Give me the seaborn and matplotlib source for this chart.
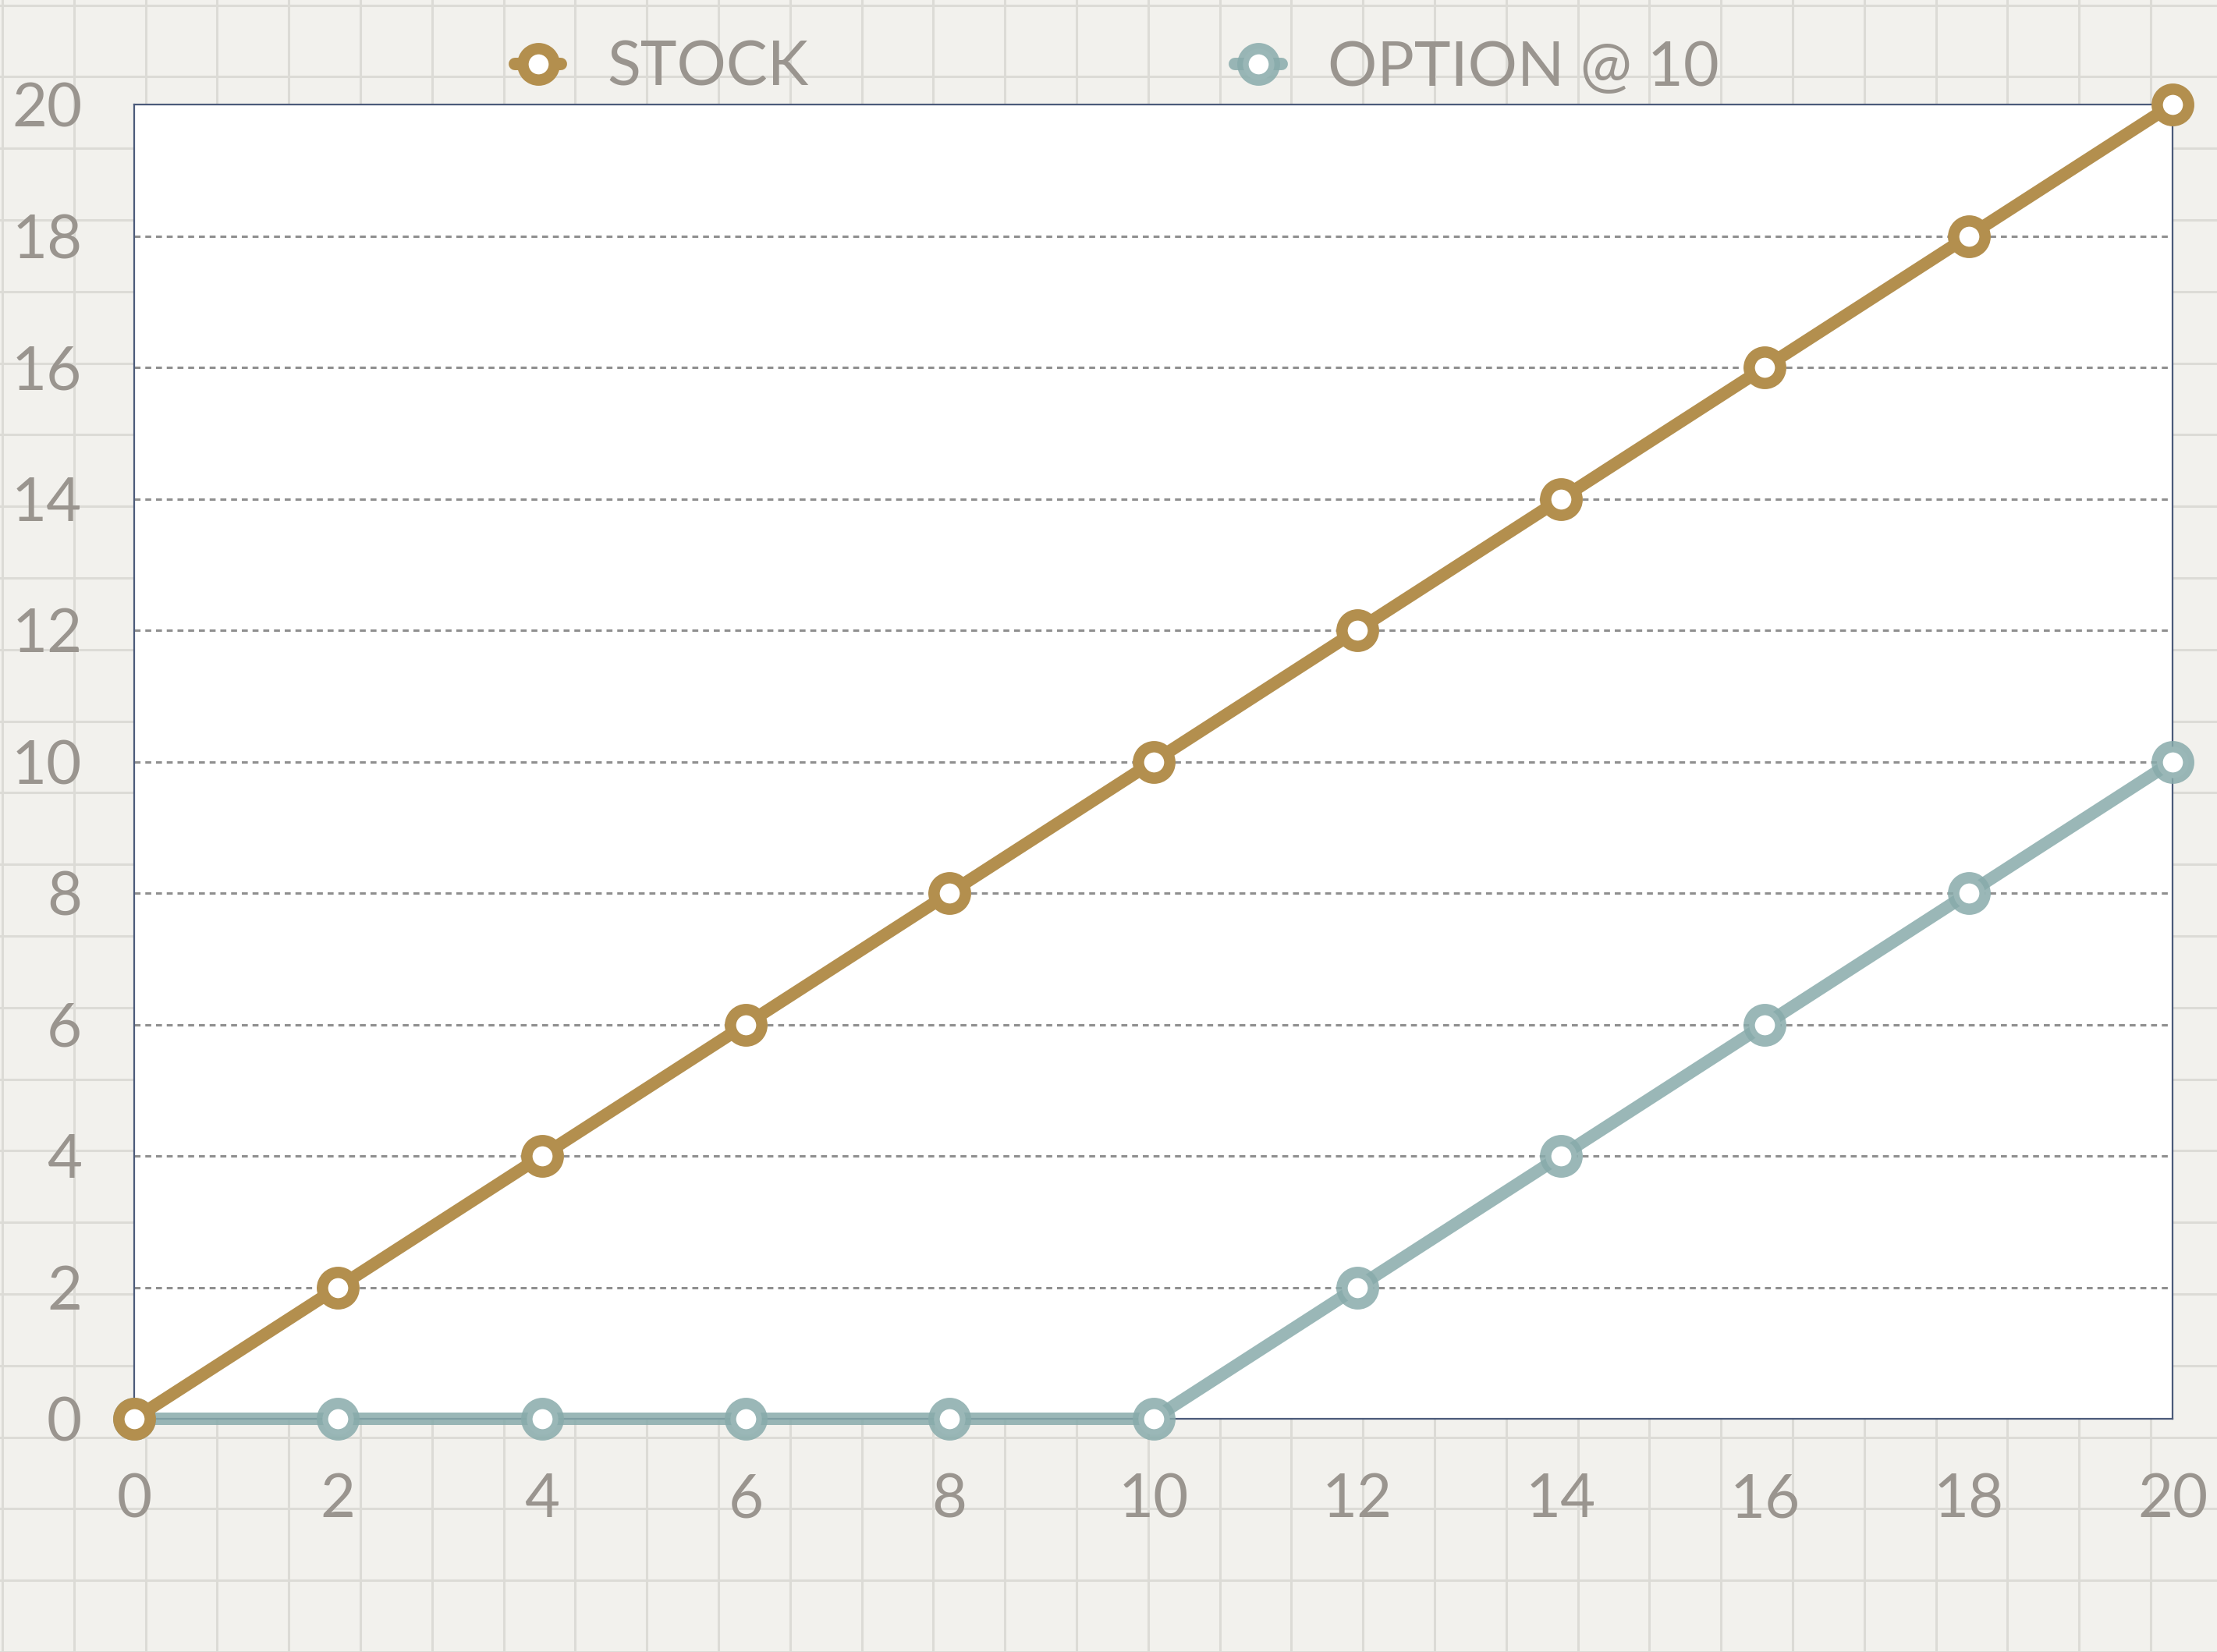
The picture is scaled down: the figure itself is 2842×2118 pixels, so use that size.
import matplotlib
matplotlib.use("Agg")
import matplotlib.pyplot as plt
import seaborn as sns
import numpy as np
import pandas as pd
from matplotlib.lines import Line2D
from matplotlib.colors import to_rgba

# ---- data ----
price = [0, 2, 4, 6, 8, 10, 12, 14, 16, 18, 20]
stock = [0, 2, 4, 6, 8, 10, 12, 14, 16, 18, 20]
option = [0, 0, 0, 0, 0, 0, 2, 4, 6, 8, 10]
series_names = ["STOCK", "OPTION @ 10"]
x_ticks = [0, 2, 4, 6, 8, 10, 12, 14, 16, 18, 20]
y_ticks = [0, 2, 4, 6, 8, 10, 12, 14, 16, 18, 20]

GOLD = to_rgba("#b38f4e")
TEAL = to_rgba("#88abab", 0.85)
TEXT = "#9a958f"
FRAME = "#4b5a7a"
PAPER = "#f2f1ed"
PAPER_LINE = "#dcdbd6"

MS = 29      # marker size (pt)
MEW = 10.5   # marker edge width (pt)
LW = 11.5

sns.set_theme(style="white")
plt.rcParams["font.family"] = ["Lato", "DejaVu Sans"]

W, H = 2842, 2118
DPI = 100
fig = plt.figure(figsize=(W / DPI, H / DPI), dpi=DPI)
fig.patch.set_facecolor(PAPER)

# paper grid background
bg = fig.add_axes([0, 0, 1, 1], zorder=0)
bg.set_xlim(0, W)
bg.set_ylim(H, 0)
bg.set_facecolor(PAPER)
for v in np.arange(3, W, 91.8):
    bg.axvline(v, color=PAPER_LINE, lw=2.2)
for h in np.arange(6.5, H, 91.8):
    bg.axhline(h, color=PAPER_LINE, lw=2.2)
bg.set_axis_off()

left, right, top, bottom = 172, 2785, 134, 1819
ax = fig.add_axes([left / W, 1 - bottom / H, (right - left) / W, (bottom - top) / H], zorder=2)
ax.set_facecolor("white")

df_opt = pd.DataFrame({"x": price, "y": option})
df_stk = pd.DataFrame({"x": price, "y": stock})

sns.lineplot(data=df_opt, x="x", y="y", ax=ax, color=TEAL, marker="o",
             linewidth=LW, clip_on=False, zorder=4)
sns.lineplot(data=df_stk, x="x", y="y", ax=ax, color=GOLD, marker="o",
             linewidth=LW, clip_on=False, zorder=5)
for ln, c in zip(ax.lines, [TEAL, GOLD]):
    ln.set_color(c)
    ln.set_markersize(MS)
    ln.set_markeredgewidth(MEW)
    ln.set_markerfacecolor("white")
    ln.set_markeredgecolor(c)
    ln.set_clip_on(False)

ax.set_xlim(0, 20)
ax.set_ylim(0, 20)
ax.set_xticks(x_ticks)
ax.set_yticks(y_ticks)
ax.set_xticklabels([str(t) for t in x_ticks])
ax.set_yticklabels([str(t) for t in y_ticks])
ax.tick_params(axis="both", length=0, labelsize=56, colors=TEXT)
ax.tick_params(axis="x", pad=50)
ax.tick_params(axis="y", pad=48)
ax.set_xlabel("")
ax.set_ylabel("")

for yv in y_ticks[1:-1]:
    ax.axhline(yv, color="#8f8f8f", lw=2.2, ls=(0, (2.5, 2.0)), zorder=1)

for s in ax.spines.values():
    s.set_color(FRAME)
    s.set_linewidth(1.6)
    s.set_visible(True)
    s.set_zorder(3)

handles = [
    Line2D([], [], color=GOLD, lw=LW, marker="o", markersize=MS, markeredgewidth=MEW,
           markerfacecolor="white", markeredgecolor=GOLD),
    Line2D([], [], color=TEAL, lw=LW, marker="o", markersize=MS, markeredgewidth=MEW,
           markerfacecolor="white", markeredgecolor=TEAL),
]
leg = fig.legend(handles, series_names, loc="center left",
                 bbox_to_anchor=(660 / W, 1 - 88 / H), ncol=2, frameon=False,
                 fontsize=57, handlelength=0.75, handletextpad=0.75, columnspacing=6.9,
                 borderpad=0, borderaxespad=0)
for t in leg.get_texts():
    t.set_color(TEXT)

fig.savefig("out.png", dpi=DPI, facecolor=PAPER)
